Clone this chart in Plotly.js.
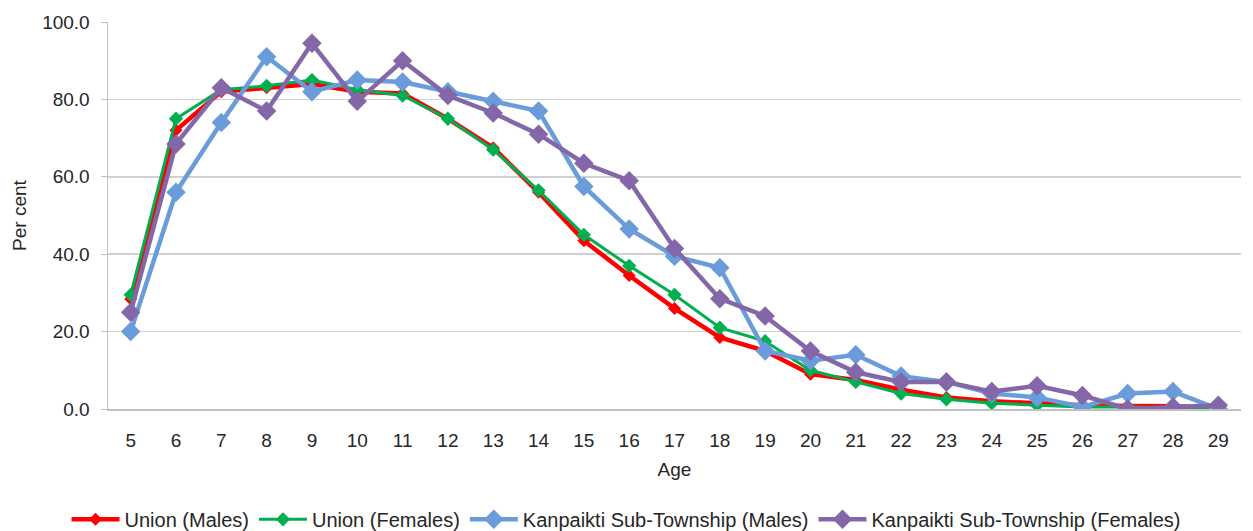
<!DOCTYPE html>
<html>
<head>
<meta charset="utf-8">
<script src="https://cdn.plot.ly/plotly-3.0.1.min.js"></script>
<style>html,body{margin:0;padding:0;background:#fff;}#chart{width:1253px;height:531px;}</style>
</head>
<body>
<div id="chart"></div>
<script>
const ages = ["5","6","7","8","9","10","11","12","13","14","15","16","17","18","19","20","21","22","23","24","25","26","27","28","29"];
const unionMales = [28.4,72,82,83,84,82,81.5,75,67.5,56,43.5,34.5,26,18.5,15,9,7.5,5,3,2,1.5,1,0.8,0.7,0.3];
const unionFemales = [29.5,75,82.5,83.5,85,82.5,81,75,67,56.5,45,37,29.5,21,17.5,10,7,4,2.5,1.5,1,0.5,0.5,0.3,0.3];
const kanMales = [20,56,74,91,82,85,84.5,82,79.5,77,57.5,46.5,39.5,36.5,15,12.5,14,8.5,7,4,3,0.5,4,4.5,0];
const kanFemales = [25,68.5,83,77,94.5,79.5,90,81,76.5,71,63.5,59,41.5,28.5,24,15,9.5,7,7,4.5,6,3.5,0,0.5,1];
const names = ["Union (Males)","Union (Females)","Kanpaikti Sub-Township (Males)","Kanpaikti Sub-Township (Females)"];
const colors = ["#FF0000","#00B050","#6A9BDB","#8467A8"];

const series = [unionMales, unionFemales, kanMales, kanFemales];
const lw = [4.5,3,4.5,4.5];
const ms = [10,11,15,15];
const traces = series.map((s,i)=>({
  x: ages, y: s, name: names[i], type: 'scatter', mode: 'lines+markers',
  line: {color: colors[i], width: lw[i]},
  marker: {symbol: 'diamond', size: ms[i], color: colors[i]}
}));

const layout = {
  width: 1253, height: 531,
  margin: {l:108, r:12, t:22, b:122},
  paper_bgcolor: '#fff', plot_bgcolor: '#fff',
  font: {family: 'Liberation Sans, Arial, sans-serif', size: 19, color: '#262626'},
  showlegend: true,
  legend: {orientation: 'h', x: 0.5, xanchor: 'center', xref: 'container', y: 0.022, yref: 'container', yanchor: 'middle',
           font: {size: 20, color: '#262626'}, tracegroupgap: 0, itemwidth: 48},
  xaxis: {type: 'category', range: [-0.5, 24.5], showgrid: false, showline: true, linecolor: '#BFBFBF', linewidth: 1.5,
          ticks: '', ticklabelstandoff: 14, tickfont: {size: 19, color: '#262626'},
          title: {text: 'Age', font: {size: 19, color: '#262626'}, standoff: 12}, automargin: false, zeroline: false},
  yaxis: {range: [0, 100], dtick: 20, tickformat: '.1f', showgrid: true, gridcolor: '#D0D0D0', gridwidth: 1.5,
          showline: true, linecolor: '#BFBFBF', linewidth: 1.5, ticks: 'outside', ticklen: 6, tickcolor: '#BFBFBF',
          ticklabelstandoff: 7, tickfont: {size: 19, color: '#262626'}, zeroline: false,
          title: {text: 'Per cent', font: {size: 19, color: '#262626'}, standoff: 10}, automargin: false}
};
Plotly.newPlot('chart', traces, layout, {displayModeBar: false, staticPlot: true});
</script>
</body>
</html>
